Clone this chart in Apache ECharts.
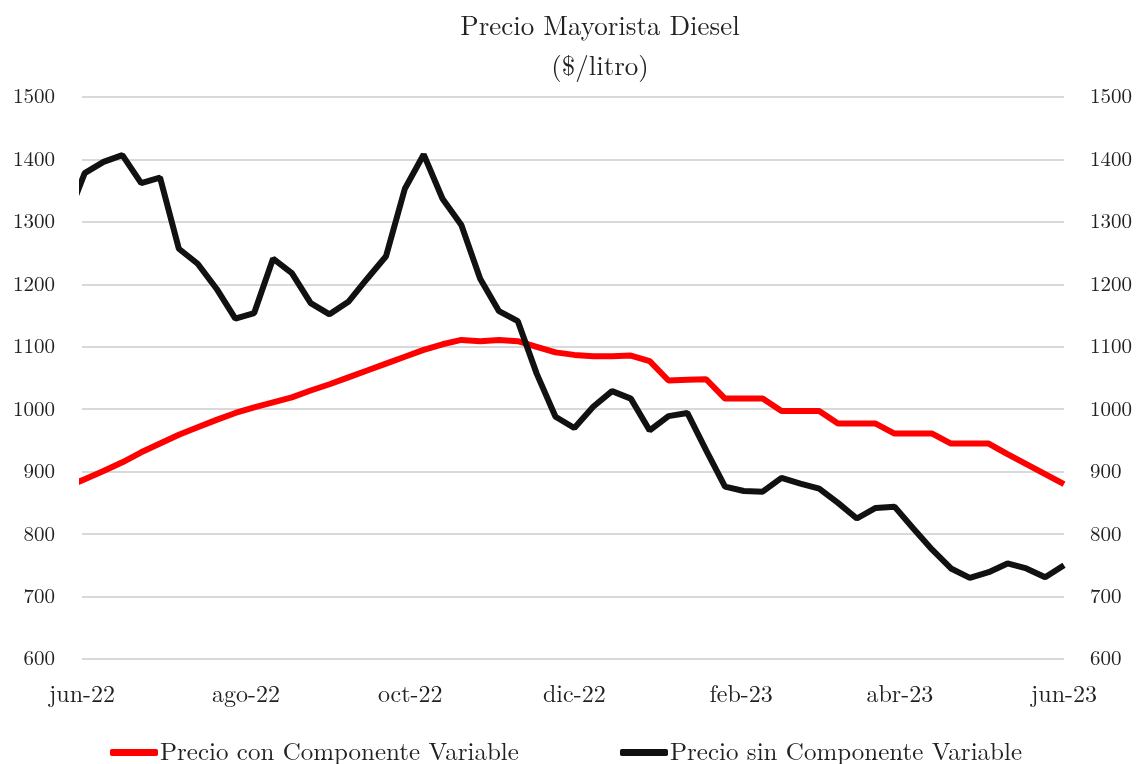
<!DOCTYPE html>
<html>
<head>
<meta charset="utf-8">
<script src="https://cdn.jsdelivr.net/npm/echarts@6/dist/echarts.min.js"></script>
<style>
  html, body { margin: 0; padding: 0; background: #fff; }
  #chart { width: 1140px; height: 764px; }
</style>
</head>
<body>
<div id="chart"></div>
<script>
// weekly readings (thursdays), first one is 2022-05-26 and gets clipped at the axis edge
var firstWeek = [2022, 4, 26];
var conComponente = [
  875,
  888, 901, 915, 931, 945, 959, 971, 983, 994, 1003,
  1011, 1019, 1030, 1040, 1051, 1062, 1073, 1084, 1095, 1104,
  1111, 1109, 1111, 1109, 1100, 1091, 1087, 1085, 1085, 1086,
  1077, 1046, 1047, 1048, 1017, 1017, 1017, 997, 997, 997,
  977, 977, 977, 961, 961, 961, 945, 945, 945, 928,
  912, 896, 880
];
var sinComponente = [
  1300,
  1378, 1396, 1407, 1362, 1371, 1257, 1233, 1193, 1145, 1154,
  1241, 1218, 1170, 1152, 1172, 1209, 1245, 1353, 1408, 1337,
  1295, 1209, 1157, 1141, 1057, 988, 970, 1004, 1029, 1017,
  966, 989, 994, 934, 876, 869, 868, 890, 881, 873,
  850, 825, 842, 844, 809, 775, 745, 730, 739, 753,
  745, 731, 750
];
// x tick labels: [year, month index]
var tickMonths = [[2022, 5], [2022, 7], [2022, 9], [2022, 11], [2023, 1], [2023, 3], [2023, 5]];
var mesNombres = ['ene', 'feb', 'mar', 'abr', 'may', 'jun', 'jul', 'ago', 'sep', 'oct', 'nov', 'dic'];

var serif = "'Latin Modern Roman', 'Liberation Serif', 'DejaVu Serif', serif";

function weekDate(i) {
  return new Date(firstWeek[0], firstWeek[1], firstWeek[2] + 7 * i).getTime();
}
var conData = conComponente.map(function (v, i) { return [weekDate(i), v]; });
var sinData = sinComponente.map(function (v, i) { return [weekDate(i), v]; });
var tickValues = tickMonths.map(function (m) { return new Date(m[0], m[1], 1).getTime(); });

var chart = echarts.init(document.getElementById('chart'));

var option = {
  backgroundColor: '#fff',
  animation: false,
  title: {
    text: 'Precio Mayorista Diesel\n($/litro)',
    left: 595,
    top: 2,
    textAlign: 'center',
    textStyle: {
      fontFamily: serif,
      fontWeight: 'normal',
      fontSize: 27,
      color: '#222',
      lineHeight: 40
    }
  },
  legend: [
    {
      data: ['Precio con Componente Variable'],
      left: 105, top: 735,
      icon: 'roundRect', itemWidth: 48, itemHeight: 7, itemGap: 0,
      textStyle: { fontFamily: serif, fontSize: 25, color: '#222', padding: [0, 0, 0, -3] }
    },
    {
      data: ['Precio sin Componente Variable'],
      left: 615, top: 735,
      icon: 'roundRect', itemWidth: 48, itemHeight: 7, itemGap: 0,
      textStyle: { fontFamily: serif, fontSize: 25, color: '#222', padding: [0, 0, 0, -3] }
    }
  ],
  grid: { left: 82, right: 76, top: 97, bottom: 105 },
  xAxis: {
    type: 'value',
    min: tickValues[0],
    max: tickValues[tickValues.length - 1],
    axisLine: { show: false },
    axisTick: { show: false },
    splitLine: { show: false },
    axisLabel: {
      customValues: tickValues,
      margin: 24,
      fontFamily: serif,
      fontSize: 24,
      color: '#222',
      formatter: function (val) {
        var d = new Date(val);
        return mesNombres[d.getMonth()] + '-' + String(d.getFullYear()).slice(2);
      }
    }
  },
  yAxis: [
    {
      type: 'value', min: 600, max: 1500, interval: 100,
      axisLine: { show: false }, axisTick: { show: false },
      axisLabel: { margin: 27, fontFamily: serif, fontSize: 21, color: '#222',
        formatter: function (v) { return String(v); } },
      splitLine: { lineStyle: { color: '#d9d9d9', width: 2 } }
    },
    {
      type: 'value', min: 600, max: 1500, interval: 100, position: 'right',
      axisLine: { show: false }, axisTick: { show: false },
      axisLabel: { margin: 26, fontFamily: serif, fontSize: 21, color: '#222',
        formatter: function (v) { return String(v); } },
      splitLine: { show: false }
    }
  ],
  series: [
    {
      name: 'Precio con Componente Variable',
      type: 'line',
      symbol: 'none',
      clip: true,
      z: 2,
      itemStyle: { color: '#ff0000' },
      lineStyle: { color: '#ff0000', width: 6 },
      data: conData
    },
    {
      name: 'Precio sin Componente Variable',
      type: 'line',
      symbol: 'none',
      clip: true,
      z: 3,
      itemStyle: { color: '#111111' },
      lineStyle: { color: '#111111', width: 6 },
      data: sinData
    }
  ]
};
chart.setOption(option);
</script>
</body>
</html>
